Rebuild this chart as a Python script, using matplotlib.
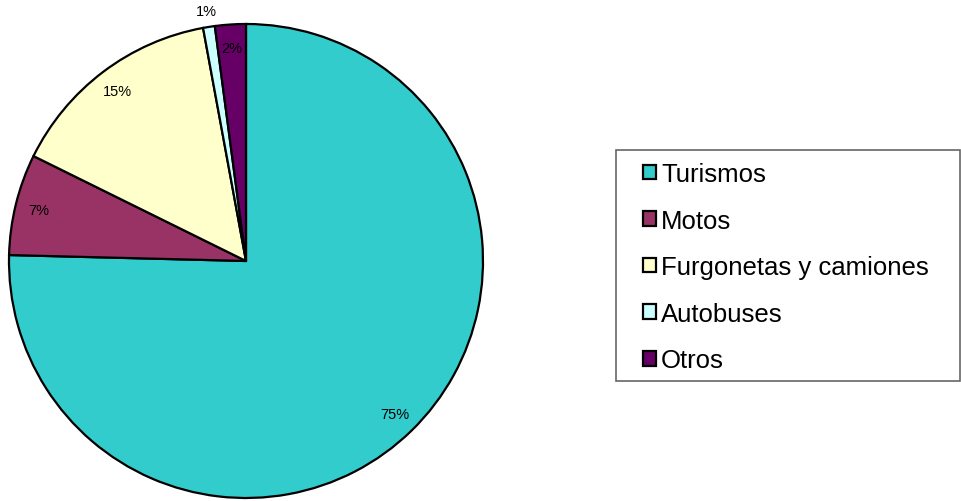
import matplotlib
matplotlib.use("Agg")
import matplotlib.pyplot as plt
from matplotlib.patches import Rectangle
import numpy as np

plt.rcParams['font.family'] = ['Liberation Sans', 'DejaVu Sans']

categories = ["Turismos", "Motos", "Furgonetas y camiones", "Autobuses", "Otros"]
values = [75.4, 6.9, 14.8, 0.8, 2.1]
colors = ["#33CCCC", "#993366", "#FFFFCC", "#CCFFFF", "#660066"]

W, H = 962, 502
fig = plt.figure(figsize=(W / 100, H / 100), dpi=100)

# pie: center (246, 262) px, radius 237 px
cx, cy, r = 246, 262, 237
ax = fig.add_axes([(cx - r) / W, (H - cy - r) / H, 2 * r / W, 2 * r / H])
wedges, texts, autotexts = ax.pie(
    values, colors=colors, startangle=90, counterclock=False,
    autopct=lambda p: f"{p:.0f}%", pctdistance=0.9,
    wedgeprops=dict(edgecolor="black", linewidth=1.6),
    textprops=dict(fontsize=10.5, color="black"))
ax.set_xlim(-1, 1)
ax.set_ylim(-1, 1)
ax.set_aspect("equal")
for w in wedges:
    w.set_clip_on(False)

# small slice label sits outside the pie
w = wedges[3]
theta = np.deg2rad((w.theta1 + w.theta2) / 2)
autotexts[3].set_position((1.07 * np.cos(theta), 1.07 * np.sin(theta)))

# legend frame drawn separately
fig.patches.append(Rectangle((616 / W, 1 - 382 / H), 344 / W, 231 / H,
                             transform=fig.transFigure, facecolor="white",
                             edgecolor="#666666", linewidth=1.2, zorder=0))

leg = fig.legend(wedges, categories, loc="upper left",
                 bbox_to_anchor=(643 / W, 1 - 163 / H),
                 borderaxespad=0, borderpad=0, fontsize=18.5,
                 handlelength=0.5, handleheight=0.5, handletextpad=0.2,
                 labelspacing=0.88, frameon=False)

fig.savefig("out.png", dpi=100)
